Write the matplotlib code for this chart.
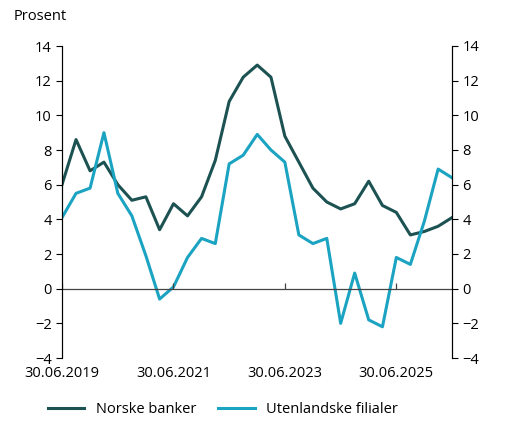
import matplotlib
matplotlib.use("Agg")
import matplotlib.pyplot as plt
import pandas as pd

dates = pd.date_range("2019-06-30", periods=29, freq="QE")
norske = [6.0,8.6,6.8,7.3,6.0,5.1,5.3,3.4,4.9,4.2,5.3,7.4,10.8,12.2,12.9,12.2,8.8,7.3,5.8,5.0,4.6,4.9,6.2,4.8,4.4,3.1,3.3,3.6,4.1]
utenl = [4.1,5.5,5.8,9.0,5.5,4.2,1.9,-0.6,0.1,1.8,2.9,2.6,7.2,7.7,8.9,8.0,7.3,3.1,2.6,2.9,-2.0,0.9,-1.8,-2.2,1.8,1.4,3.9,6.9,6.4]
tick_dates = pd.to_datetime(["2019-06-30","2021-06-30","2023-06-30","2025-06-30"])
tick_labels = ["30.06.2019","30.06.2021","30.06.2023","30.06.2025"]

plt.rcParams['font.family'] = ['Open Sans', 'DejaVu Sans']
fig = plt.figure(figsize=(5.10,4.45), dpi=100)
ax = fig.add_axes([62/510, 1-358/445, (452-62)/510, (358-46)/445])
ax.plot(dates, norske, color="#1d5253", lw=2.2, label="Norske banker")
ax.plot(dates, utenl, color="#1ba3c2", lw=2.2, label="Utenlandske filialer")
ax.set_ylim(-4,14)
ax.set_yticks(range(-4,15,2))
ax.set_xlim(dates[0], dates[-1])
ax.set_xticks(tick_dates)
ax.set_xticklabels(tick_labels)
ax.axhline(0, color="#444444", lw=0.9)
ax.vlines(tick_dates, 0, 0.35, color="#444444", lw=0.9)
for s in ["top","bottom"]:
    ax.spines[s].set_visible(False)
for s in ["left","right"]:
    ax.spines[s].set_linewidth(0.8)
ax.tick_params(axis="y", labelsize=10.5, length=4)
ax.tick_params(axis="x", labelsize=10.5, length=0, pad=6)
ax2 = ax.twinx()
ax2.set_ylim(-4,14)
ax2.set_yticks(range(-4,15,2))
ax2.spines["top"].set_visible(False)
ax2.spines["bottom"].set_visible(False)
ax2.tick_params(labelsize=10.5, length=4)
fig.text(14/510, 1-17/445, "Prosent", fontsize=10.5, va="center")
ax.legend(loc="upper left", bbox_to_anchor=(-0.07, -0.1), ncol=2, frameon=False, fontsize=10.5, handlelength=2.5, columnspacing=1.5)
fig.savefig("out.png", dpi=100)
